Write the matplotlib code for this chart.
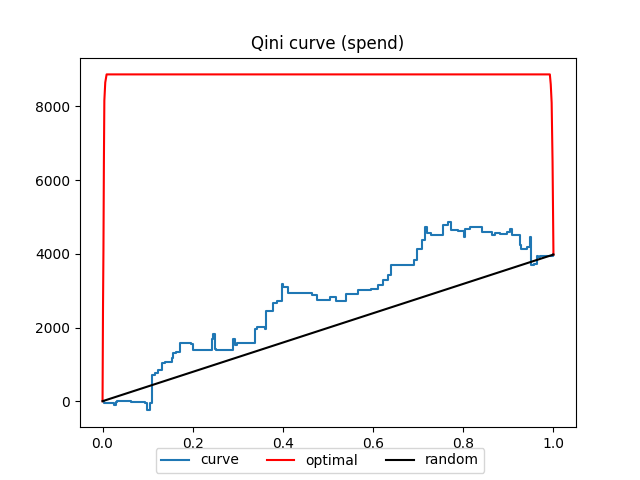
import matplotlib
matplotlib.use('Agg')
import matplotlib.pyplot as plt
import numpy as np

# qini curve (step data)
curve_x = [0.0, 0.004, 0.020, 0.025, 0.029, 0.033, 0.064, 0.094, 0.098, 0.105,
           0.109, 0.116, 0.123, 0.131, 0.138, 0.153, 0.156, 0.164, 0.171, 0.197,
           0.201, 0.242, 0.245, 0.249, 0.252, 0.290, 0.294, 0.298, 0.338, 0.342,
           0.360, 0.363, 0.379, 0.388, 0.397, 0.401, 0.412, 0.464, 0.475, 0.504,
           0.518, 0.540, 0.567, 0.582, 0.596, 0.611, 0.622, 0.634, 0.639, 0.691,
           0.697, 0.708, 0.715, 0.719, 0.729, 0.756, 0.766, 0.772, 0.789, 0.801,
           0.804, 0.815, 0.841, 0.863, 0.870, 0.881, 0.896, 0.904, 0.908, 0.925,
           0.928, 0.941, 0.947, 0.951, 0.957, 0.963, 0.966, 0.970, 0.998, 1.0]
curve_y = [0, -50, -60, -110, -20, 0, -30, -40, -250, -60,
           700, 770, 860, 1030, 1070, 1170, 1300, 1340, 1580, 1550,
           1380, 1700, 1835, 1430, 1380, 1700, 1520, 1580, 1970, 2010,
           1970, 2450, 2670, 2720, 3190, 3100, 2940, 2875, 2740, 2830,
           2720, 2920, 3030, 3010, 3055, 3145, 3280, 3420, 3690, 3840,
           4140, 4370, 4720, 4560, 4500, 4770, 4860, 4640, 4620, 4470,
           4680, 4730, 4590, 4500, 4560, 4530, 4580, 4680, 4520, 4230,
           4120, 4180, 4470, 3690, 3730, 3940, 3910, 3930, 4000, 3980]

optimal_x = [0.0, 0.001, 0.002, 0.003, 0.004, 0.006, 0.009,
             0.992, 0.994, 0.996, 0.998, 1.0]
optimal_y = [0, 2500, 4100, 6500, 8160, 8650, 8870,
             8870, 8600, 8100, 6500, 3980]

random_x = [0.0, 1.0]
random_y = [0, 3980]

fig = plt.figure(figsize=(6.4, 4.8), dpi=100)
ax = fig.add_subplot(111)
ax.plot(curve_x, curve_y, drawstyle='steps-post', label='curve')
ax.plot(optimal_x, optimal_y, color='red', label='optimal')
ax.plot(random_x, random_y, color='black', label='random')
ax.set_title('Qini curve (spend)')
fig.legend(loc='lower center', ncol=3)
plt.savefig('out.png', dpi=100)
